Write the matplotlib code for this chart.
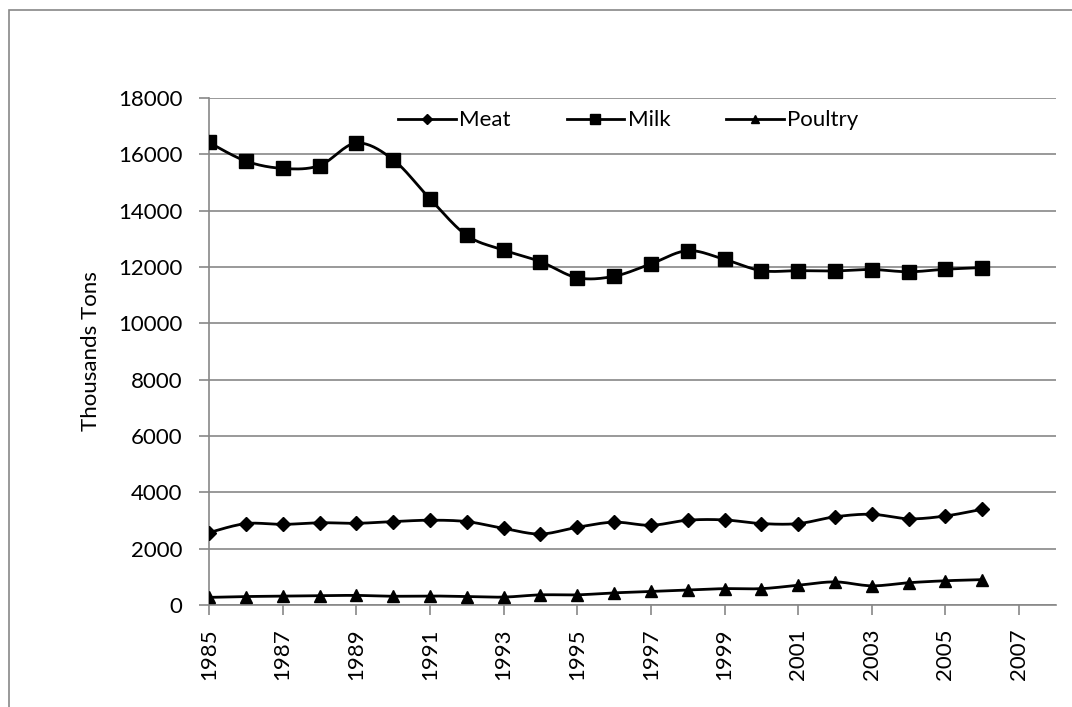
import numpy as np
import matplotlib.pyplot as plt
from matplotlib.lines import Line2D
from matplotlib.patches import Rectangle

plt.rcParams['font.family'] = ['Lato', 'DejaVu Sans']

years = list(range(1985, 2007))
meat = [2570, 2890, 2860, 2920, 2900, 2960, 3010, 2960, 2720, 2520, 2760, 2940,
        2830, 3010, 3020, 2890, 2890, 3130, 3220, 3060, 3160, 3400]
milk = [16420, 15760, 15500, 15600, 16400, 15810, 14420, 13120, 12600, 12190, 11620, 11670,
        12110, 12580, 12270, 11870, 11870, 11860, 11910, 11830, 11920, 11980]
poultry = [270, 300, 310, 330, 340, 310, 320, 300, 280, 360, 360, 430,
           480, 530, 580, 580, 700, 820, 680, 790, 860, 900]

series = [('Meat', meat, 'D', 7), ('Milk', milk, 's', 9.5), ('Poultry', poultry, '^', 9)]


def smooth(x, y, n=20):
    # Catmull-Rom style bezier smoothing between points
    x = np.asarray(x, float)
    y = np.asarray(y, float)
    xs, ys = [], []
    for i in range(len(x) - 1):
        p0 = np.array([x[max(i - 1, 0)], y[max(i - 1, 0)]])
        p1 = np.array([x[i], y[i]])
        p2 = np.array([x[i + 1], y[i + 1]])
        p3 = np.array([x[min(i + 2, len(x) - 1)], y[min(i + 2, len(x) - 1)]])
        c1 = p1 + (p2 - p0) / 6
        c2 = p2 - (p3 - p1) / 6
        t = np.linspace(0, 1, n)[:, None]
        pts = ((1 - t) ** 3) * p1 + 3 * ((1 - t) ** 2) * t * c1 + 3 * (1 - t) * t ** 2 * c2 + t ** 3 * p2
        xs.extend(pts[:, 0])
        ys.extend(pts[:, 1])
    return xs, ys


fig = plt.figure(figsize=(10.72, 7.07), dpi=100)
ax = fig.add_axes([0.195, 0.1443, 0.79, 0.7171])

gray = '#878787'
for name, vals, mk, ms in series:
    sx, sy = smooth(years, vals)
    ax.plot(sx, sy, color='black', lw=2, zorder=3)
    ax.plot(years, vals, ls='none', marker=mk, ms=ms, color='black', zorder=4)

ax.set_xlim(1985, 2008)
ax.set_ylim(0, 18000)
ax.set_yticks(range(0, 18001, 2000))
ax.set_xticks(range(1985, 2008, 2))
ax.set_xticklabels([str(y) for y in range(1985, 2008, 2)], rotation=90)
ax.tick_params(axis='both', labelsize=16, color=gray, length=7, width=1.2)
ax.tick_params(axis='y', pad=12)
ax.tick_params(axis='x', pad=10)
ax.grid(axis='y', color=gray, lw=1.2)
ax.set_axisbelow(True)
for s in ['top', 'right']:
    ax.spines[s].set_visible(False)
for s in ['left', 'bottom']:
    ax.spines[s].set_color(gray)
    ax.spines[s].set_linewidth(1.2)
ax.set_ylabel('Thousands Tons', fontsize=16, labelpad=12)

handles = [Line2D([], [], color='black', lw=2, marker=mk, ms=ms * 0.7) for _, _, mk, ms in series]
ax.legend(handles, [s[0] for s in series], ncol=3, frameon=False, fontsize=16,
          loc='upper center', bbox_to_anchor=(0.495, 1.015), handlelength=2.6,
          handletextpad=0.15, columnspacing=2.5)

# chart area border
fig.patches.append(Rectangle((9 / 1072, -0.1), 1.2, 0.1 + 1 - 10 / 707,
                             transform=fig.transFigure, fill=False,
                             edgecolor=gray, lw=1.2))

fig.savefig('out.png', dpi=100)
